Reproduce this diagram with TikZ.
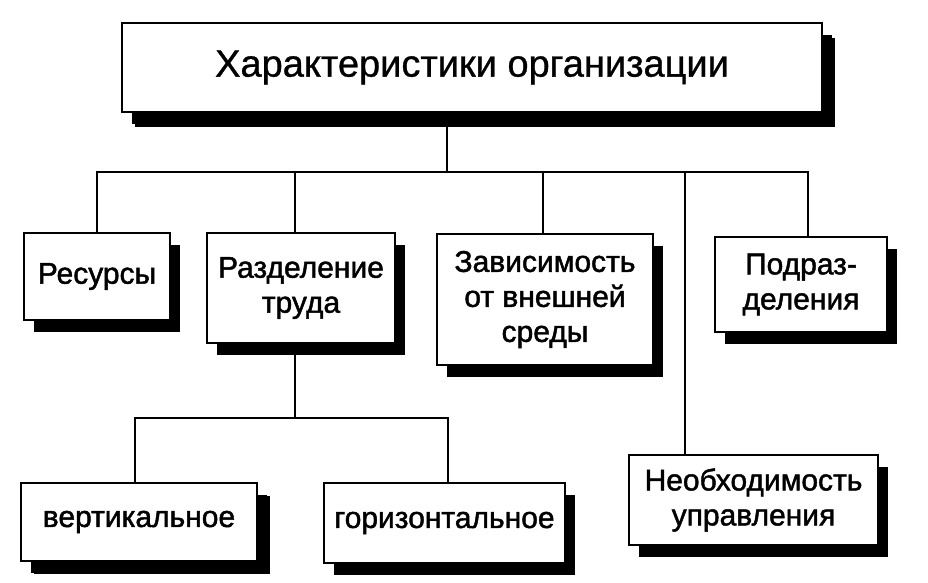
\documentclass[tikz,border=0pt]{standalone}
\usepackage{fontspec}
\setmainfont{Liberation Sans}
\newfontfamily\boxfont{Liberation Sans}[FakeBold=1.5]
\newfontfamily\topfont{Liberation Sans}[FakeBold=0.8]
\usetikzlibrary{shadows}
\begin{document}
\begin{tikzpicture}[x=1pt,y=-1pt,
  box/.style={draw, line width=2.6pt, fill=white, inner sep=0pt, outer sep=0pt,
    align=center, font=\boxfont\fontsize{30}{35}\selectfont,
    general shadow={fill=black, shadow xshift=10pt, shadow yshift=-12pt}},
  conn/.style={line width=2.6pt, line cap=rect}]
\fill[white] (0,0) rectangle (928,582);
\useasboundingbox (0,0) rectangle (928,582);

\node[box, minimum width=700pt, minimum height=89pt, font=\topfont\fontsize{38}{42}\selectfont,
  general shadow={fill=black, shadow xshift=13pt, shadow yshift=-15pt}]
  (top) at (472,67.5) {Характеристики организации};
\node[box, minimum width=146pt, minimum height=87pt] (res) at (97,276.5) {Ресурсы};
\node[box, minimum width=188pt, minimum height=110pt] (raz) at (301,288) {Разделение\\труда};
\node[box, minimum width=216pt, minimum height=131pt] (zav) at (545,299.5) {Зависимость\\от внешней\\среды};
\node[box, minimum width=172pt, minimum height=95pt] (pod) at (801,284.5) {Подраз-\\деления};
\node[box, minimum width=236pt, minimum height=78pt,
  general shadow={fill=black, shadow xshift=13pt, shadow yshift=-13pt}] (ver) at (139,522) {вертикальное};
\node[box, minimum width=241pt, minimum height=80pt] (gor) at (444.5,523) {горизонтальное};
\node[box, minimum width=249pt, minimum height=90pt] (neo) at (753.5,500) {Необходимость\\управления};

\coordinate (bT) at (447,172);
\coordinate (bL) at (97,172);
\coordinate (bR) at (808,172);
\coordinate (dRaz) at (295,172);
\coordinate (dZav) at (543,172);
\coordinate (dNeo) at (685,172);
\coordinate (cT) at (295,418);
\coordinate (cL) at (135,418);
\coordinate (cR) at (448,418);

\draw[conn] (top.south -| bT) -- (bT);
\draw[conn] (res.north -| bL) -- (bL) -- (bR) -- (pod.north -| bR);
\draw[conn] (dRaz) -- (raz.north -| dRaz);
\draw[conn] (dZav) -- (zav.north -| dZav);
\draw[conn] (dNeo) -- (neo.north -| dNeo);
\draw[conn] (raz.south -| cT) -- (cT);
\draw[conn] (ver.north -| cL) -- (cL) -- (cR) -- (gor.north -| cR);
\end{tikzpicture}
\end{document}
